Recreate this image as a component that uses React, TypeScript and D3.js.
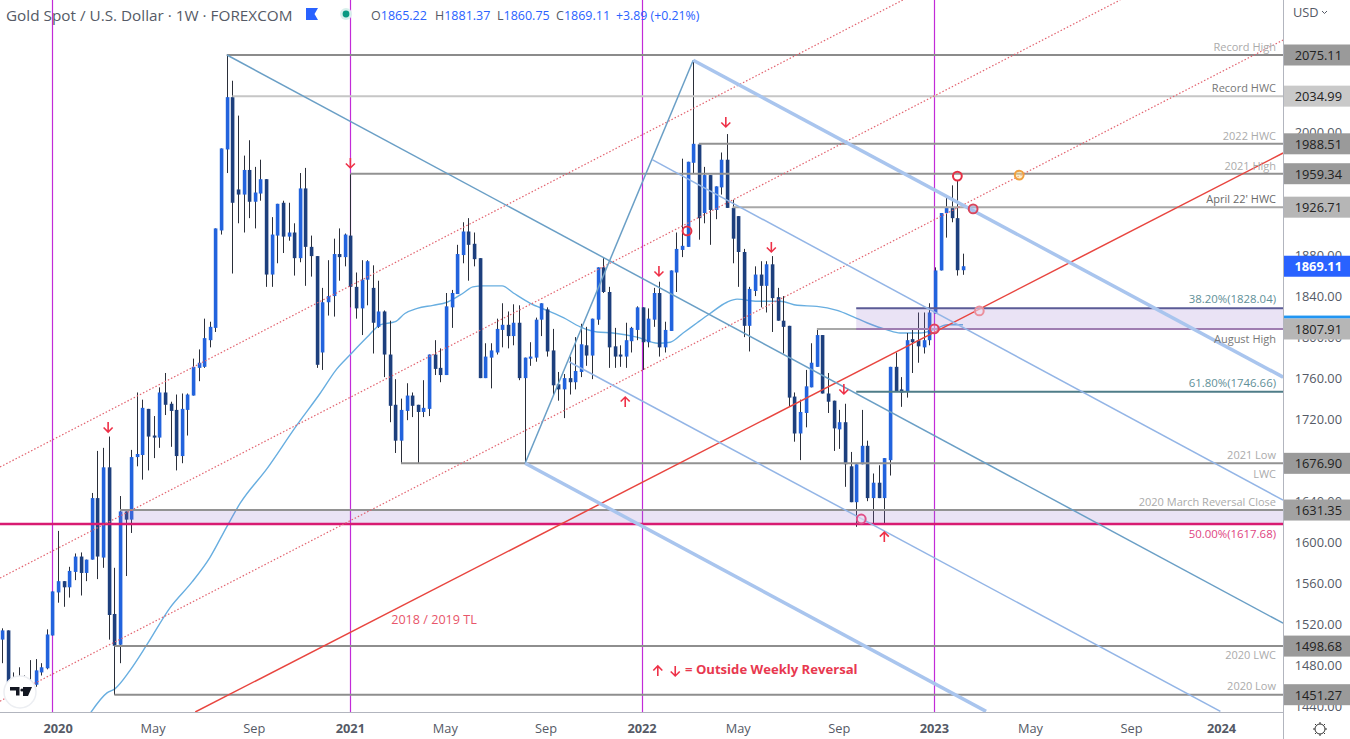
import React from "react";
import * as d3 from "d3";

const opens = [
1505,1514,1463,1456,1460,1464,1461,1473,1477,1509,
1551,1562,1556,1571,1586,1570,1583,1643,1585,1673,
1530,1500,1630,1622,1683,1685,1730,1704,1702,1746,
1735,1729,1684,1729,1743,1770,1771,1797,1809,1904,
1983,2034,1944,1939,1963,1932,1940,1954,1861,1899,
1931,1898,1902,1877,1945,1888,1879,1785,1834,1840,
1881,1878,1899,1849,1828,1856,1848,1810,1825,1783,
1734,1699,1728,1743,1734,1727,1730,1783,1770,1763,
1829,1842,1880,1903,1891,1877,1760,1780,1785,1807,
1812,1801,1814,1760,1779,1780,1817,1827,1787,1754,
1749,1760,1756,1766,1792,1782,1817,1868,1844,1791,
1783,1781,1796,1807,1829,1795,1817,1843,1790,1806,
1863,1885,1888,1970,1988,1921,1958,1924,1946,1973,
1926,1918,1883,1811,1845,1861,1850,1871,1839,1816,
1811,1742,1706,1726,1751,1771,1802,1745,1738,1710,
1717,1674,1639,1676,1694,1643,1658,1643,1680,1771,
1749,1747,1798,1797,1790,1797,1823,1865,1921,1926,
1916,1865.22];
const highs = [
1516,1514,1473,1478,1470,1485,1486,1482,1515,1552,
1611,1562,1576,1589,1590,1583,1648,1689,1692,1703,
1575,1645,1630,1690,1746,1739,1730,1723,1751,1765,
1737,1744,1745,1745,1779,1788,1818,1815,1906,1984,
2075,2050,2016,1977,1992,1966,1973,1954,1917,1930,
1933,1931,1911,1960,1965,1899,1879,1848,1875,1896,
1906,1901,1959,1863,1875,1875,1870,1855,1826,1816,
1759,1740,1755,1746,1734,1758,1783,1797,1789,1843,
1846,1890,1912,1916,1902,1877,1794,1794,1818,1833,
1825,1832,1831,1780,1795,1819,1833,1829,1808,1766,
1764,1781,1800,1813,1810,1818,1868,1877,1849,1809,
1792,1814,1810,1830,1829,1828,1848,1854,1815,1865,
1902,1974,1971,2070,1988,1966,1958,1947,1980,1998,
1934,1918,1886,1849,1869,1874,1874,1879,1848,1840,
1811,1746,1739,1768,1794,1807,1802,1765,1738,1729,
1735,1688,1676,1729,1699,1667,1675,1682,1771,1785,
1761,1804,1807,1824,1824,1833,1868,1921,1936,1948,
1953,1881.37];
const lows = [
1482,1456,1446,1451,1451,1446,1459,1470,1476,1509,
1541,1537,1546,1563,1548,1562,1583,1564,1575,1505,
1451,1482,1567,1609,1674,1661,1670,1682,1692,1724,
1693,1670,1677,1704,1743,1757,1770,1790,1805,1900,
1960,1862,1911,1902,1916,1906,1933,1849,1849,1872,
1882,1894,1860,1873,1850,1859,1770,1768,1821,1820,
1855,1869,1829,1818,1802,1831,1784,1809,1761,1717,
1687,1677,1719,1722,1677,1722,1723,1763,1756,1763,
1809,1842,1872,1855,1869,1760,1760,1750,1783,1790,
1789,1792,1758,1677,1772,1776,1801,1781,1743,1738,
1721,1744,1749,1761,1772,1759,1812,1843,1770,1770,
1771,1770,1785,1797,1768,1790,1810,1781,1785,1806,
1844,1878,1888,1960,1895,1911,1890,1915,1939,1926,
1872,1849,1800,1786,1840,1829,1824,1805,1816,1784,
1732,1698,1680,1712,1751,1771,1745,1726,1689,1691,
1654,1639,1615,1676,1640,1618,1643,1618,1665,1747,
1732,1741,1765,1775,1784,1792,1823,1865,1897,1912,
1860,1860.75];
const closes = [
1514,1463,1456,1466,1464,1456,1475,1478,1510,1552,
1562,1556,1572,1586,1570,1583,1643,1586,1673,1529,
1499,1630,1622,1683,1686,1731,1703,1702,1746,1734,
1728,1684,1730,1744,1771,1775,1799,1810,1906,1984,
2034,1931,1939,1963,1932,1941,1954,1861,1900,1930,
1898,1902,1877,1945,1888,1879,1773,1834,1840,1881,
1878,1900,1849,1828,1856,1874,1814,1825,1783,1733,
1699,1729,1743,1733,1727,1731,1783,1769,1763,1830,
1843,1881,1903,1890,1876,1760,1781,1787,1808,1812,
1801,1814,1760,1780,1781,1817,1833,1786,1753,1749,
1760,1756,1767,1793,1782,1818,1868,1844,1790,1781,
1781,1797,1809,1829,1795,1818,1843,1790,1807,1865,
1886,1889,1971,1988.5,1916,1958,1924,1947,1973,1926,
1896,1883,1811,1847,1861,1850,1871,1838,1816,1810,
1741,1706,1727,1752,1775,1802,1745,1737,1711,1717,
1676,1639,1676,1694,1643,1658,1643,1682,1771,1747,
1746,1797,1795,1791,1797,1824,1865,1921,1926,1916,
1865.22,1869.11];

const maIdx = [15.7,18.7,20.1,22.8,25.8,29.9,33.8,37,40,42.4,47.2,52.2,56.6,59.6,62,65,67.3,70,71.7,73.9,76.7,79.2,82.1,83.8,85.6,89,91,94,97,99.9,102.9,105.9,108.7,113,116.7,118.9,121.2,123.7,126,129,130.8,134.4,138.5,141.5,145,148.6,151.4,153.9,157.5,159.8,163.4,165.7,168.2,171];
const maVal = [1433,1453,1457,1475,1500,1536,1561,1585,1615,1638,1672,1712,1745,1769,1783,1800,1812,1815,1823,1828,1831,1834,1843,1849,1850,1850,1843,1833,1826,1819,1810,1805,1804,1800,1794,1795,1804,1814,1823,1834,1837,1835,1835,1831,1830,1826,1820,1814,1807,1804,1804,1807,1812,1812];

const priceTicks = [2040,2000,1880,1840,1800,1760,1720,1640,1600,1560,1520,1480,1440];
const timeTicks: [string, number, boolean][] = [["2020",10,true],["May",26.9,false],["Sep",44.9,false],["2021",62,true],["May",78.9,false],["Sep",96.8,false],["2022",113.9,true],["May",131,false],["Sep",149,false],["2023",165.9,true],["May",183,false],["Sep",201,false],["2024",217,true]];
const yearLines = [9, 62, 113.9, 165.9];

const levels: [number, number, string, number][] = [
  [2075.11,40,"#8b8b8b",2],[2034.99,41,"#c6c6c6",2],[1988.51,124,"#929292",2],[1959.34,62,"#929292",2],
  [1926.71,130,"#a8a8a8",2],[1807.91,145,"#a8a8a8",2],[1828.04,152,"#5b5b96",2],[1807.91,152,"#9c6fb4",1.5],
  [1746.66,152,"#4f7d88",2],[1676.90,71,"#929292",2],[1631.35,21,"#929292",2],[1617.68,-1,"#d81b72",2.4],
  [1498.68,20,"#8e8e8e",2],[1451.27,20,"#8e8e8e",2],
];
const zones: [number, number, number][] = [[1828.04,1807.91,152],[1631.35,1617.68,21]];
const levelLabels: [string, number, string][] = [
  ["Record High",2083.6,"#ababab"],["Record HWC",2043.6,"#777777"],["2022 HWC",1997,"#ababab"],["2021 High",1967.5,"#ababab"],
  ["April 22' HWC",1935.5,"#6a6a6a"],["38.20%(1828.04)",1838,"#5f9098"],["August High",1799,"#777777"],["61.80%(1746.66)",1756,"#5f9098"],
  ["2021 Low",1686,"#ababab"],["LWC",1666.5,"#ababab"],["2020 March Reversal Close",1640,"#ababab"],["50.00%(1617.68)",1608,"#e0447f"],
  ["2020 LWC",1490,"#ababab"],["2020 Low",1460,"#ababab"],
];
const priceTags: [string, string, string, string][] = [
  ["2075.11","#9a9a9a","#222","2075.11"],["2034.99","#c9c9c9","#222","2034.99"],["1988.51","#9a9a9a","#222","1988.51"],
  ["1959.34","#9a9a9a","#222","1959.34"],["1926.71","#b6b6b6","#222","1926.71"],["1869.11","#2962ff","#fff","1869.11"],
  ["1807.91","#b6b6b6","#222","1807.91"],["1676.90","#9a9a9a","#222","1676.90"],["1631.35","#a2a2a2","#222","1631.35"],
  ["1498.68","#9a9a9a","#222","1498.68"],["1451.27","#9a9a9a","#222","1451.27"],
];
type Seg = [number, number, number, number, string, number, string?];
const segments: Seg[] = [
  [-0.34,1673.3,160.3,2128.75,"#e2626e",1.2,"1.5 2"],
  [-0.34,1565,198.97,2128.75,"#e2626e",1.2,"1.5 2"],
  [-0.34,1445,227.95,2089.7,"#e2626e",1.2,"1.5 2"],
  [34.4,1434.4,227.95,1979.5,"#e8453f",1.5],
  [40.05,2075.11,227.95,1521,"#6a9fc6",1.5],
  [93.1,1677,123,2070,"#6a9fc6",1.5],
  [123,2070,227.95,1761,"#a9c5ee",3.5],
  [93.1,1677,175.1,1435,"#a9c5ee",3.5],
  [115.7,1973,227.95,1641,"#93b5e6",1.5],
  [100.9,1776,216.8,1435,"#93b5e6",1.5],
];
const arrowsDown: [number, number][] = [[18.9,1712.3],[62,1969.8],[116.9,1864.5],[128.8,2009.8],[136.9,1887.9],[149.8,1749.4],[119.8,1474.4]];
const arrowsUp: [number, number][] = [[110.9,1736.7],[157,1605],[116.7,1474.4]];
const rings: [number, number, string, string][] = [
  [121.9,1903.5,"#e53045","none"],[170,1957,"#e53045","none"],[172.8,1925,"#d8455c","rgba(170,190,235,0.5)"],
  [165.9,1808,"#e0405a","rgba(230,210,240,0.4)"],[173.9,1825.5,"#eb8f9c","rgba(235,220,240,0.6)"],
  [152.9,1622.6,"#e0508a","rgba(235,220,240,0.6)"],[181,1958,"#f0a040","rgba(250,225,150,0.5)"],
];
const ohlcLabels: [string, string, number][] = [["O","1865.22",371],["H","1881.37",435],["L","1860.75",497],["C","1869.11",556]];

const W = 1350, H = 739, PW = 1283, PH = 712;
const FONT = "'Open Sans', sans-serif";
const x = d3.scaleLinear().domain([0, 171]).range([1.9, 963]);
const y = d3.scaleLinear().domain([2075.11, 1451.27]).range([55, 694.7]);

export default function App() {
  const lineGen = d3.line<[number, number]>().x(d => x(d[0])).y(d => y(d[1])).curve(d3.curveMonotoneX);
  const ma: [number, number][] = maIdx.map((v, i) => [v, maVal[i]]);
  return (
    <svg width={W} height={H} style={{ position: "absolute", left: 0, top: 0, display: "block", background: "#fff" }} fontFamily={FONT}>
      <defs><clipPath id="pane"><rect x={0} y={0} width={PW} height={PH} /></clipPath></defs>
      <g clipPath="url(#pane)">
        {yearLines.map(v => <line key={v} x1={Math.round(x(v)) + 0.5} x2={Math.round(x(v)) + 0.5} y1={0} y2={PH} stroke="#c22bd8" strokeWidth={1.2} />)}
        <path d={lineGen(ma) || ""} fill="none" stroke="#68aee0" strokeWidth={1.4} />
        {opens.map((o, i) => {
          const c = closes[i], up = c >= o, cx = Math.round(x(i));
          const t = y(Math.max(o, c)), b = y(Math.min(o, c));
          return (
            <g key={i}>
              <line x1={cx + 0.5} x2={cx + 0.5} y1={y(highs[i])} y2={y(lows[i])} stroke="#2a2e39" strokeWidth={1} />
              <rect x={cx - 1.2} y={t} width={3.6} height={Math.max(b - t, 1.5)} fill={up ? "#2263dd" : "#1d3f7d"} />
            </g>
          );
        })}
        {zones.map((z, i) => <rect key={i} x={x(z[2])} y={y(z[0])} width={PW - x(z[2])} height={y(z[1]) - y(z[0])} fill="rgba(149,117,205,0.2)" />)}
        {levels.map((l, i) => <line key={i} x1={x(l[1])} x2={PW} y1={y(l[0])} y2={y(l[0])} stroke={l[2]} strokeWidth={l[3]} />)}
        {segments.map((s, i) => <line key={i} x1={x(s[0])} y1={y(s[1])} x2={x(s[2])} y2={y(s[3])} stroke={s[4]} strokeWidth={s[5]} strokeDasharray={s[6]} />)}
        {rings.map((r, i) => <circle key={i} cx={x(r[0])} cy={y(r[1])} r={4.4} fill={r[3]} stroke={r[2]} strokeWidth={2} />)}
        {arrowsDown.map((a, i) => { const X = x(a[0]), Y = y(a[1]); return <path key={i} d={`M${X},${Y - 5}V${Y + 5}M${X - 4.5},${Y + 0.5}L${X},${Y + 5}L${X + 4.5},${Y + 0.5}`} fill="none" stroke="#ee3148" strokeWidth={1.6} />; })}
        {arrowsUp.map((a, i) => { const X = x(a[0]), Y = y(a[1]); return <path key={i} d={`M${X},${Y + 5}V${Y - 5}M${X - 4.5},${Y - 0.5}L${X},${Y - 5}L${X + 4.5},${Y - 0.5}`} fill="none" stroke="#ee3148" strokeWidth={1.6} />; })}
        {levelLabels.map((l, i) => <text key={i} x={1276} y={y(l[1])} textAnchor="end" dominantBaseline="central" fontSize={l[0].includes("%") ? 11.4 : 11} fill={l[2]} fontWeight={500}>{l[0]}</text>)}
        <text x={434} y={619} textAnchor="middle" dominantBaseline="central" fontSize={12.6} fill="#e8566a">2018 / 2019 TL</text>
        <text x={685} y={669} dominantBaseline="central" fontSize={13.1} fontWeight={700} fill="#e8384f">= Outside Weekly Reversal</text>
      </g>
      <rect x={PW} y={0} width={W - PW} height={H} fill="#fff" />
      <line x1={PW + 0.5} x2={PW + 0.5} y1={0} y2={H} stroke="#b2b5be" />
      <line x1={0} x2={PW} y1={PH + 0.5} y2={PH + 0.5} stroke="#b2b5be" />
      {priceTicks.map(t => <text key={t} x={1342} y={y(t)} textAnchor="end" dominantBaseline="central" fontSize={12.8} fill="#555a66">{t.toFixed(2)}</text>)}
      <rect x={PW + 1} y={y(1821)} width={W - PW} height={3} fill="#2196f3" />
      {priceTags.map((p, i) => {
        const v = +p[3];
        return (
          <g key={i}>
            <rect x={PW + 1} y={y(v) - 10.5} width={W - PW} height={21} fill={p[1]} />
            <text x={1342} y={y(v)} textAnchor="end" dominantBaseline="central" fontSize={12.8} fontWeight={p[2] === "#fff" ? 700 : 400} fill={p[2]}>{p[0]}</text>
          </g>
        );
      })}
      {timeTicks.map((t, i) => <text key={i} x={x(t[1])} y={728} textAnchor="middle" dominantBaseline="central" fontSize={12.8} fontWeight={t[2] ? 700 : 400} fill="#555a66">{t[0]}</text>)}
      <text x={1293} y={12} dominantBaseline="central" fontSize={12.8} fill="#555a66">USD</text>
      <path d="M1322,11l2.5,2.5l2.5,-2.5" fill="none" stroke="#555a66" />
      <g stroke="#333" fill="none">
        <circle cx={1320} cy={729} r={5} />
        {d3.range(8).map(k => { const a = k * Math.PI / 4; return <line key={k} x1={1320 + 5 * Math.cos(a)} y1={729 + 5 * Math.sin(a)} x2={1320 + 7 * Math.cos(a)} y2={729 + 7 * Math.sin(a)} />; })}
      </g>
      <circle cx={20} cy={692} r={16} fill="#fff" stroke="#eceef2" strokeWidth={1.5} />
      <path d="M10,687h9.5v8.5h-3.5v-5h-6zM23,687h9l-4,9h-5z" fill="#131722" />
      <circle cx={22} cy={690} r={1.6} fill="#131722" />
      <text x={6} y={14.5} dominantBaseline="central" fontSize={15.3} fill="#555a66">Gold Spot / U.S. Dollar · 1W · FOREXCOM</text>
      <path d="M306,8h12l-3.5,6l3.5,6h-12z" fill="#2962ff" />
      <circle cx={346} cy={14} r={6} fill="#d8f0ec" />
      <circle cx={346} cy={14} r={3.4} fill="#089981" />
      {ohlcLabels.map((o, i) => (
        <text key={i} x={o[2]} y={15} dominantBaseline="central" fontSize={12.5}>
          <tspan fill="#555a66">{o[0]}</tspan><tspan fill="#2962ff">{o[1]}</tspan>
        </text>
      ))}
      <text x={616} y={15} dominantBaseline="central" fontSize={12.3} fill="#2962ff">+3.89 (+0.21%)</text>
    </svg>
  );
}
